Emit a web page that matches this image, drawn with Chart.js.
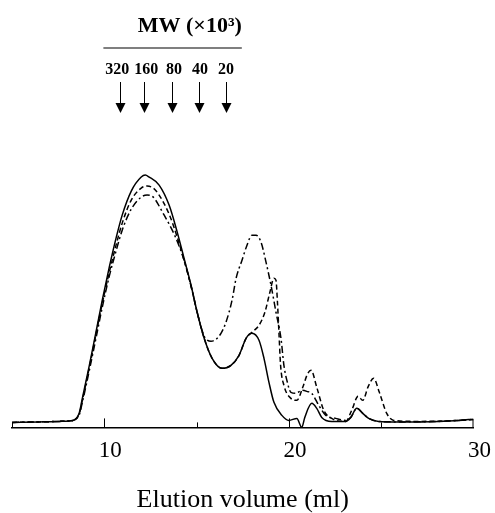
<!DOCTYPE html>
<html>
<head>
<meta charset="utf-8">
<script src="https://cdn.jsdelivr.net/npm/chart.js@4"></script>
<style>
  html, body { margin: 0; padding: 0; background: #fff; }
  #wrap { width: 495px; height: 513px; position: relative; }
</style>
</head>
<body>
<div id="wrap"><canvas id="c"></canvas></div>
<script>
// ---- data (elution volume in ml, absorbance in arbitrary units) ----
const solidX = [5.0, 6.5, 7.57, 8.11, 8.38, 8.65, 8.81, 9.19, 9.57, 9.89, 10.27, 10.65, 10.97, 11.46, 12.0, 12.22, 12.43, 12.97, 13.51, 13.95, 14.32, 14.70, 15.03, 15.41, 15.84, 16.38, 16.86, 17.30, 17.68, 18.0, 18.38, 18.65, 18.92, 19.19, 19.62, 20.0, 20.43, 20.70, 20.86, 21.24, 21.51, 21.78, 22.32, 23.08, 23.35, 23.68, 24.0, 24.32, 24.86, 25.95, 28.11, 29.19, 29.73, 30.0];
const solidY = [0, 0.5, 1, 1.5, 2.5, 10, 24, 57, 92, 122, 155, 185, 207, 231, 245, 247, 245, 237, 217, 190, 164, 137, 110, 84, 64, 54, 57, 67, 84, 89, 82, 64, 40, 20, 7, 2, 4, -5, 5, 19, 14, 5, 1, 1, 5, 14, 9, 4, 1, 0.5, 1, 2, 3, 3];

const dashX = [5.0, 6.5, 7.57, 8.11, 8.38, 8.65, 8.81, 9.19, 9.57, 9.89, 10.27, 10.65, 10.97, 11.46, 12.0, 12.32, 12.65, 12.97, 13.51, 13.95, 14.32, 14.70, 15.03, 15.41, 15.84, 16.38, 16.86, 17.30, 17.68, 18.0, 18.38, 18.70, 18.97, 19.19, 19.30, 19.38, 19.46, 19.55, 19.73, 20.11, 20.43, 20.75, 21.0, 21.2, 21.51, 21.89, 22.32, 23.08, 23.4, 23.75, 24.0, 24.3, 24.59, 24.9, 25.3, 25.68, 27.0, 29.19, 30.0];
const dashY = [0, 0.5, 1, 1.5, 2.5, 9, 22, 55, 90, 119, 150, 178, 199, 222, 234, 236, 234, 227, 208, 185, 162, 136, 110, 84, 64, 54, 57, 67, 84, 90, 97, 110, 130, 144, 142, 120, 90, 57, 37, 24, 22, 35, 48, 52, 35, 12, 4, 1, 12, 26, 22, 36, 44, 30, 9, 2, 1, 2, 3];

const dotX = [5.0, 6.5, 7.57, 8.11, 8.38, 8.65, 8.81, 9.19, 9.57, 9.89, 10.27, 10.65, 10.97, 11.46, 12.0, 12.32, 12.65, 13.15, 13.88, 14.32, 14.70, 15.03, 15.41, 15.52, 15.78, 16.05, 16.32, 16.59, 16.92, 17.14, 17.46, 17.73, 18.0, 18.22, 18.49, 18.76, 19.03, 19.30, 19.57, 19.73, 19.89, 20.11, 20.38, 20.70, 20.97, 21.24, 21.62, 22.0, 22.54, 23.08, 23.35, 23.68, 24.0, 24.32, 24.86, 25.95, 28.11, 29.19, 30.0];
const dotY = [0, 0.5, 1, 1.5, 2.5, 8, 20, 52, 86, 115, 146, 172, 192, 213, 225, 227, 225, 210, 184, 162, 136, 110, 86, 83, 81, 83, 89, 100, 122, 144, 162, 177, 187, 187, 180, 160, 137, 110, 84, 57, 42, 30, 29, 32, 31, 29, 17, 7, 4, 2, 5, 14, 9, 4, 1, 0.5, 1, 2, 3];

// axis ticks
const xLabelTicks = [10, 20, 30];
const majorTicks = [10, 20];
const minorTicks = [15, 25];

// molecular weight markers
const mwTitle = 'MW (\u00d710\u00b3)';
const mwLabels = ['320', '160', '80', '40', '20'];
const mwPositions = [10.86, 12.16, 13.68, 15.14, 16.59];
const mwLabelPositions = [10.70, 12.27, 13.78, 15.19, 16.59];
const mwLineRange = [9.95, 17.45];

function pts(xs, ys) { return xs.map((x, i) => ({ x: x, y: ys[i] })); }

const mwPlugin = {
  id: 'mwMarkers',
  afterDraw(chart) {
    const ctx = chart.ctx, xs = chart.scales.x, area = chart.chartArea;
    ctx.save();
    ctx.fillStyle = '#000';
    ctx.strokeStyle = '#000';
    // header
    const lx0 = xs.getPixelForValue(mwLineRange[0]);
    const lx1 = xs.getPixelForValue(mwLineRange[1]);
    ctx.lineWidth = 1.2;
    ctx.beginPath(); ctx.moveTo(lx0, 48); ctx.lineTo(lx1, 48); ctx.stroke();
    ctx.font = 'bold 22px "Liberation Serif"';
    ctx.textAlign = 'right';
    ctx.textBaseline = 'middle';
    ctx.fillText(mwTitle, lx1, 26);
    ctx.font = 'bold 16px "Liberation Serif"';
    ctx.textAlign = 'center';
    mwPositions.forEach((v, i) => {
      const px = Math.round(xs.getPixelForValue(v)) + 0.5;
      ctx.fillText(mwLabels[i], xs.getPixelForValue(mwLabelPositions[i]), 70);
      ctx.lineWidth = 1;
      ctx.beginPath(); ctx.moveTo(px, 82); ctx.lineTo(px, 104); ctx.stroke();
      ctx.beginPath(); ctx.moveTo(px - 5, 103); ctx.lineTo(px + 5, 103); ctx.lineTo(px, 113); ctx.closePath(); ctx.fill();
    });
    // inward ticks on the x axis
    const yb = area.bottom;
    ctx.lineWidth = 1;
    majorTicks.forEach(v => {
      const px = Math.round(xs.getPixelForValue(v)) + 0.5;
      ctx.beginPath(); ctx.moveTo(px, yb); ctx.lineTo(px, yb - 9); ctx.stroke();
    });
    minorTicks.forEach(v => {
      const px = Math.round(xs.getPixelForValue(v)) + 0.5;
      ctx.beginPath(); ctx.moveTo(px, yb); ctx.lineTo(px, yb - 5); ctx.stroke();
    });
    // end caps
    ctx.beginPath(); ctx.moveTo(area.left + 0.5, yb); ctx.lineTo(area.left + 0.5, yb - 5); ctx.stroke();
    ctx.beginPath(); ctx.moveTo(area.right - 0.5, yb); ctx.lineTo(area.right - 0.5, yb - 8); ctx.stroke();
    ctx.restore();
  }
};

const common = { borderColor: '#000', borderWidth: 1.5, pointRadius: 0, fill: false, cubicInterpolationMode: 'monotone' };

new Chart(document.getElementById('c'), {
  type: 'line',
  data: {
    datasets: [
      Object.assign({ label: 'solid', data: pts(solidX, solidY) }, common),
      Object.assign({ label: 'dashed', data: pts(dashX, dashY), borderDash: [5, 3] }, common),
      Object.assign({ label: 'dash-dot', data: pts(dotX, dotY), borderDash: [7, 3, 2, 3] }, common)
    ]
  },
  options: {
    responsive: true,
    maintainAspectRatio: false,
    animation: false,
    events: [],
    layout: { padding: { top: 130, left: 12, right: 20, bottom: 0 } },
    plugins: { legend: { display: false }, tooltip: { enabled: false } },
    scales: {
      x: {
        type: 'linear',
        min: 5, max: 30,
        afterBuildTicks(scale) {
          scale.ticks = xLabelTicks.map(v => ({ value: v }));
        },
        ticks: {
          color: '#000',
          font: { family: 'Liberation Serif', size: 23 },
          padding: 10,
          labelOffset: 6,
          maxRotation: 0,
          autoSkip: false
        },
        grid: { display: false, drawTicks: false },
        border: { display: true, color: '#000', width: 1.5 },
        title: {
          display: true,
          text: 'Elution volume (ml)',
          color: '#000',
          font: { family: 'Liberation Serif', size: 26, lineHeight: 1 },
          padding: { top: 12, bottom: 0 }
        }
      },
      y: {
        display: false,
        min: -5, max: 292
      }
    }
  },
  plugins: [mwPlugin]
});
</script>
</body>
</html>
